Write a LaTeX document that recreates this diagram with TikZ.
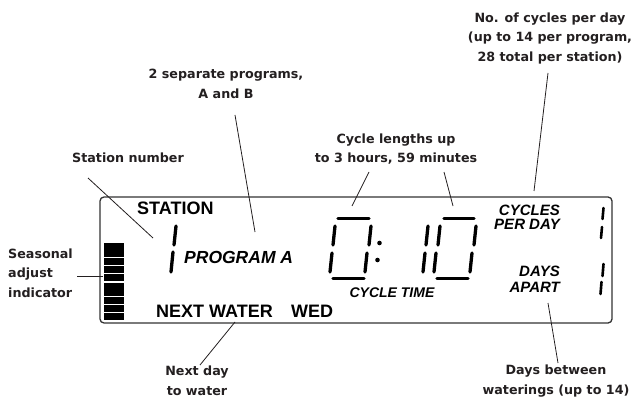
\documentclass[tikz,border=0pt]{standalone}
\usepackage{fontspec}
\setmainfont{DejaVu Sans}
\newfontfamily\lcdfont{Liberation Sans}
\definecolor{labc}{HTML}{231F20}
\begin{document}
\begin{tikzpicture}[x=1pt,y=-1pt,
  lab/.style={font=\fontsize{12.7}{19.5}\selectfont\bfseries, align=center, inner sep=0pt, text=labc},
  lcdtxt/.style={font=\lcdfont\bfseries\fontsize{18}{18}\selectfont, inner sep=0pt},
  lcdit/.style={font=\lcdfont\bfseries\itshape\fontsize{#1}{14}\selectfont, inner sep=0pt},
  seg/.style={line width=3.3pt, line cap=round},
  lead/.style={line width=0.8pt, draw=labc},
  bar/.style={fill=black, draw=none}]
\useasboundingbox (0,0) rectangle (636,398);

% LCD frame
\draw[rounded corners=4pt, line width=1.3pt, draw=black!80] (100,197) rectangle (612,323);

% seasonal bar
\foreach \a/\b in {243/256.6,257.6/265.4,266.4/273.4,274.4/281.4,282.6/296.4,297.4/304.2,305.2/312.2,313.2/320}
  \fill[bar] (104,\a) rectangle (124,\b);

% LCD texts
\node[lcdtxt, anchor=base west] (station) at (137,214.5) {STATION};
\node[lcdit=17.5, anchor=base west] (prog) at (184,263) {PROGRAM A};
\node[lcdtxt, anchor=base west] (nextw) at (156,317) {NEXT WATER};
\node[lcdtxt, anchor=base west] (wed) at (291,317) {WED};
\node[lcdit=14, anchor=base] (ctime) at (392,297) {CYCLE TIME};
\node[lcdit=15, anchor=base east] (cyc) at (560,215) {CYCLES};
\node[lcdit=15, anchor=base east] (perday) at (560,229) {PER DAY};
\node[lcdit=15, anchor=base east] (days) at (560,276) {DAYS};
\node[lcdit=15, anchor=base east] (apart) at (560,292) {APART};

% station digit 1
\draw[seg] (176,226) -- (174,245);
\draw[seg] (173,252) -- (171,272);

% big digit 0
\draw[seg] (338,218.5) -- (369,218.5);
\draw[seg] (335,226) -- (333,245);
\draw[seg] (371,226) -- (369,245);
\draw[seg] (332,253) -- (330,272);
\draw[seg] (367,253) -- (365,272);
\draw[seg] (333,278.5) -- (364,278.5);
% colon
\fill (379.5,243) circle (2.3);
\fill (377.5,260) circle (2.3);
% digit 1
\draw[seg] (428,226) -- (426,245);
\draw[seg] (425,253) -- (423,272);
% digit 0
\draw[seg] (444,218.5) -- (474,218.5);
\draw[seg] (440,226) -- (438,245);
\draw[seg] (476,226) -- (474,245);
\draw[seg] (436,253) -- (434,272);
\draw[seg] (472,253) -- (470,272);
\draw[seg] (437,278.5) -- (468,278.5);

% right digits
\draw[seg, line width=2.6pt] (603.5,208) -- (602.5,219);
\draw[seg, line width=2.6pt] (602,227) -- (601,238);
\draw[seg, line width=2.6pt] (603.5,264) -- (602.5,276);
\draw[seg, line width=2.6pt] (601.5,282) -- (600.5,294);

% labels
\node[lab] (lstation) at (128,158) {Station number};
\node[lab] (lprog) at (226,84) {2 separate programs,\\A and B};
\node[lab] (lcycle) at (396,149) {Cycle lengths up\\to 3 hours, 59 minutes};
\node[lab] (lcpd) at (550,38) {No. of cycles per day\\(up to 14 per program,\\28 total per station)};
\node[lab, align=left, anchor=west] (lseas) at (8,273) {Seasonal\\adjust\\indicator};
\node[lab] (lnext) at (197,381) {Next day\\to water};
\node[lab] (ldays) at (556,381) {Days between\\waterings (up to 14)};

% leader ends
\coordinate (e1a) at (88,178);   \coordinate (e1b) at (153,238);
\coordinate (e2a) at (235,115);  \coordinate (e2b) at (255,232);
\coordinate (e3a) at (369,172);  \coordinate (e3b) at (352,206);
\coordinate (e4a) at (444,172);  \coordinate (e4b) at (453,206);
\coordinate (e5a) at (548,73);   \coordinate (e5b) at (534,191);
\coordinate (e6a) at (77,276);   \coordinate (e6b) at (103,276);
\coordinate (e7a) at (235,322);  \coordinate (e7b) at (200,365);
\coordinate (e8a) at (548,303);  \coordinate (e8b) at (558,363);

\draw[lead] (e1a) -- (e1b);
\draw[lead] (e2a) -- (e2b);
\draw[lead] (e3a) -- (e3b);
\draw[lead] (e4a) -- (e4b);
\draw[lead] (e5a) -- (e5b);
\draw[lead] (e6a) -- (e6b);
\draw[lead] (e7a) -- (e7b);
\draw[lead] (e8a) -- (e8b);
\end{tikzpicture}
\end{document}
